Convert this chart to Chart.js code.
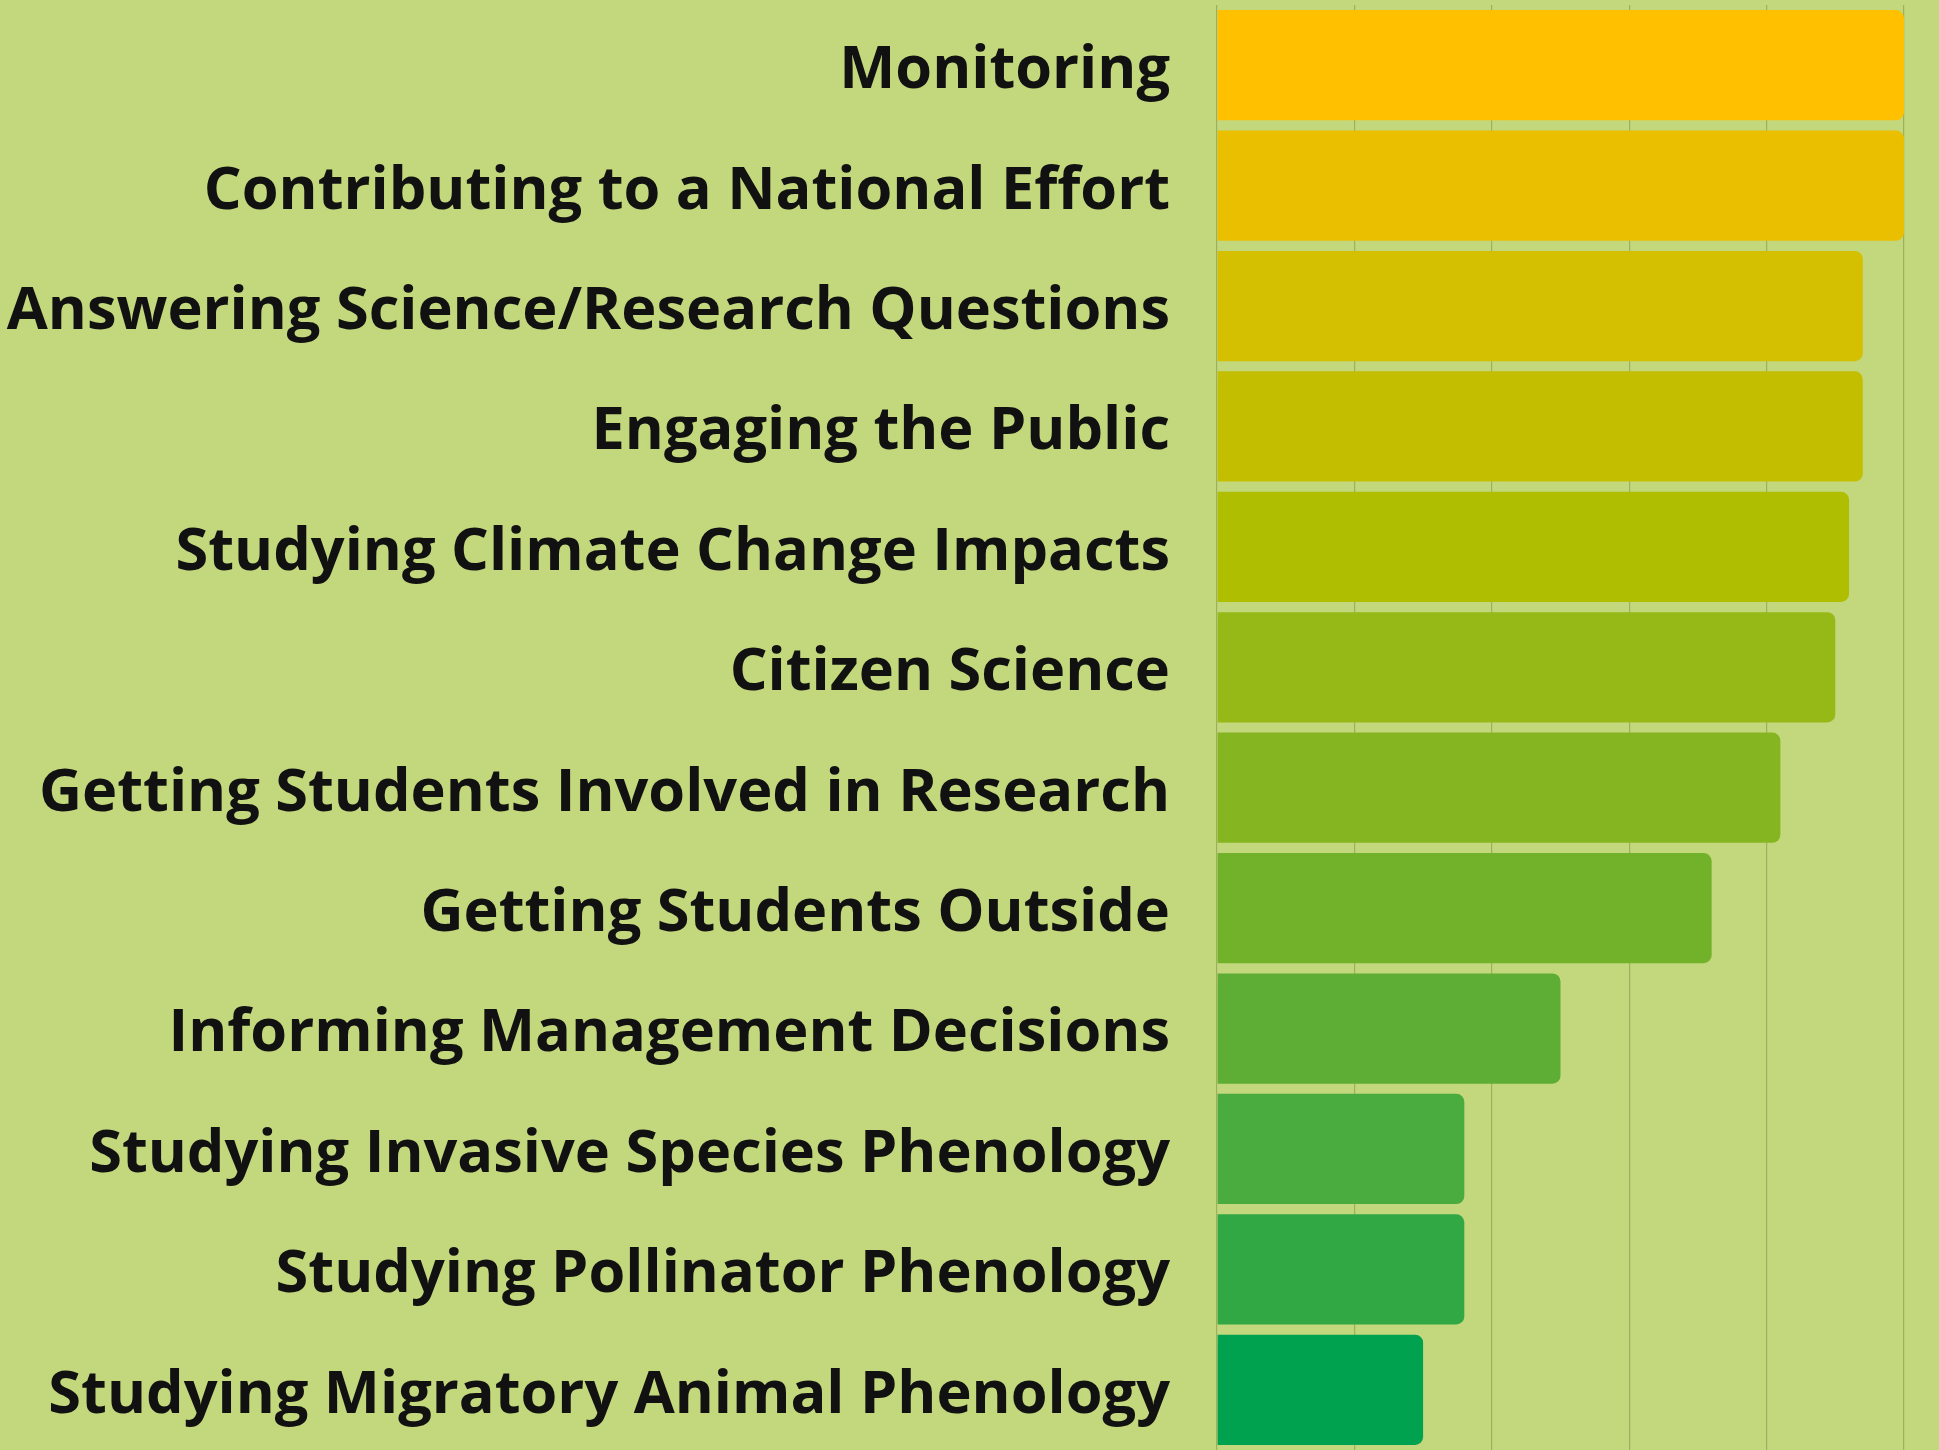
<!DOCTYPE html>
<html>
<head>
<meta charset="utf-8">
<script src="https://cdn.jsdelivr.net/npm/chart.js@4"></script>
<style>
  html, body { margin: 0; padding: 0; background: #C3D77D; }
  #wrap { position: relative; width: 1939px; height: 1450px; }
</style>
</head>
<body>
<div id="wrap"><canvas id="c"></canvas></div>
<script>
const categories = [
  "Monitoring",
  "Contributing to a National Effort",
  "Answering Science/Research Questions",
  "Engaging the Public",
  "Studying Climate Change Impacts",
  "Citizen Science",
  "Getting Students Involved in Research",
  "Getting Students Outside",
  "Informing Management Decisions",
  "Studying Invasive Species Phenology",
  "Studying Pollinator Phenology",
  "Studying Migratory Animal Phenology"
];
const values = [100, 100, 94, 94, 92, 90, 82, 72, 50, 36, 36, 30];
const barColors = [
  "#FFC000", "#E9BF00", "#D4BF00", "#C3BF00", "#AFBE00", "#97B918",
  "#85B621", "#72B22B", "#5EAE36", "#4AAB3E", "#32A845", "#00A14F"
];
const gridTicks = [0, 20, 40, 60, 80, 100];

new Chart(document.getElementById('c'), {
  type: 'bar',
  data: {
    labels: categories,
    datasets: [{
      data: values,
      backgroundColor: barColors,
      borderWidth: 0,
      borderRadius: { topLeft: 0, bottomLeft: 0, topRight: 8, bottomRight: 8 },
      borderSkipped: 'start',
      barPercentage: 0.915,
      categoryPercentage: 1.0
    }]
  },
  options: {
    indexAxis: 'y',
    responsive: true,
    maintainAspectRatio: false,
    animation: false,
    layout: { padding: { top: 5, bottom: 0, right: 35, left: 0 } },
    plugins: { legend: { display: false }, tooltip: { enabled: false } },
    scales: {
      x: {
        min: 0, max: 100,
        afterBuildTicks: (s) => { s.ticks = gridTicks.map(v => ({ value: v })); },
        afterFit: (s) => { s.height = 0; s.paddingLeft = 0; s.paddingRight = 0; },
        ticks: { display: false },
        border: { display: false },
        grid: { color: '#9DB05E', lineWidth: 1.2, drawTicks: false }
      },
      y: {
        afterFit: (s) => { s.width = 1217; s.paddingTop = 0; s.paddingBottom = 0; },
        border: { display: false },
        grid: { display: false, drawTicks: false },
        ticks: {
          color: '#111111',
          padding: 47,
          labelOffset: 6,
          font: { family: '"Open Sans"', weight: 'bold', size: 59.5 }
        }
      }
    }
  }
});
</script>
</body>
</html>
